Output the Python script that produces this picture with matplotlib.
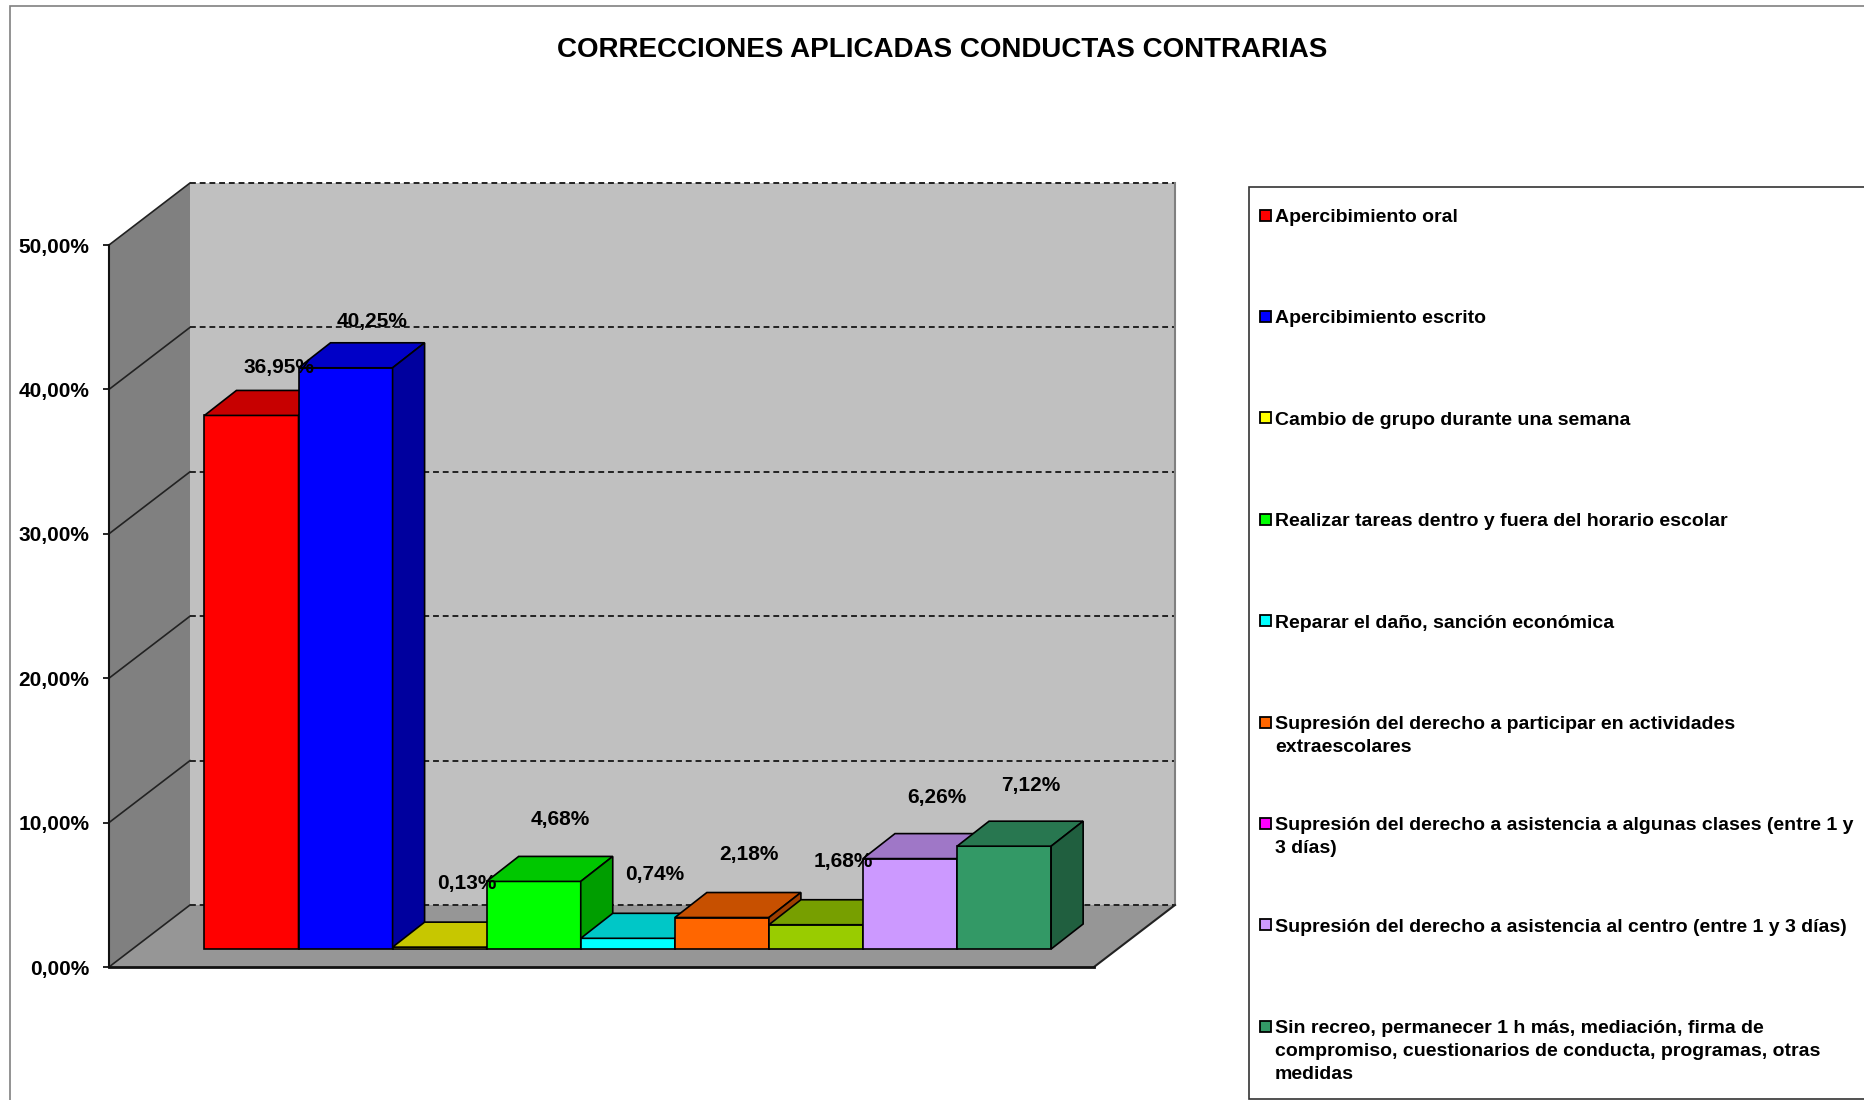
import matplotlib
matplotlib.use("Agg")
import matplotlib.pyplot as plt
from matplotlib.patches import Polygon, Rectangle
from matplotlib.ticker import FuncFormatter
import matplotlib.colors as mcolors
import numpy as np

plt.rcParams['font.family'] = ['Liberation Sans', 'DejaVu Sans']
plt.rcParams['font.weight'] = 'bold'

# ---------------- data ----------------
title = "CORRECCIONES APLICADAS CONDUCTAS CONTRARIAS"
categories = [
    "Apercibimiento oral",
    "Apercibimiento escrito",
    "Cambio de grupo durante una semana",
    "Realizar tareas dentro y fuera del horario escolar",
    "Reparar el daño, sanción económica",
    "Supresión del derecho a participar en actividades\nextraescolares",
    "Supresión del derecho a asistencia a algunas clases (entre 1 y\n3 días)",
    "Supresión del derecho a asistencia al centro (entre 1 y 3 días)",
    "Sin recreo, permanecer 1 h más, mediación, firma de\ncompromiso, cuestionarios de conducta, programas, otras\nmedidas",
]
values = [36.95, 40.25, 0.13, 4.68, 0.74, 2.18, 1.68, 6.26, 7.12]
bar_colors = ["#FF0000", "#0000FF", "#FFFF00", "#00FF00", "#00FFFF",
              "#FF6600", "#99CC00", "#CC99FF", "#339966"]
legend_colors = ["#FF0000", "#0000FF", "#FFFF00", "#00FF00", "#00FFFF",
                 "#FF6600", "#FF00FF", "#CC99FF", "#339966"]
yticks = [0, 10, 20, 30, 40, 50]


def fmt_pct(v, pos=None):
    return f"{v:.2f}%".replace(".", ",")


def shade(c, f):
    r, g, b = mcolors.to_rgb(c)
    return (r * f, g * f, b * f)


# ---------------- figure ----------------
W, H = 1865, 1100
fig = plt.figure(figsize=(W / 100, H / 100), dpi=100)
fig.patch.set_facecolor("white")

# axes = front plane of the 3-D box
ax = fig.add_axes([109 / W, 1 - 967 / H, 985 / W, 722 / H])
ax.set_xlim(-1.27, 9.2)
ax.set_ylim(yticks[0], yticks[-1])
ax.patch.set_visible(False)

bbox = ax.get_window_extent()
x0, x1 = ax.get_xlim()
y0, y1 = ax.get_ylim()
sx = (x1 - x0) / bbox.width    # data units per pixel
sy = (y1 - y0) / bbox.height

# depth geometry (pixels -> data units)
WDX, WDY = 81 * sx, 62 * sy      # full wall depth
BFX, BFY = 23 * sx, 18 * sy      # bar front plane
BDX, BDY = 32 * sx, 25 * sy      # bar depth

# walls
left_wall = Polygon([(x0, y0), (x0 + WDX, y0 + WDY), (x0 + WDX, y1 + WDY), (x0, y1)],
                    closed=True, facecolor="#808080", edgecolor="none",
                    clip_on=False, zorder=0.2)
back_wall = Polygon([(x0 + WDX, y0 + WDY), (x1 + WDX, y0 + WDY),
                     (x1 + WDX, y1 + WDY), (x0 + WDX, y1 + WDY)],
                    closed=True, facecolor="#C0C0C0", edgecolor="none",
                    clip_on=False, zorder=0.2)
floor = Polygon([(x0, y0), (x1, y0), (x1 + WDX, y0 + WDY), (x0 + WDX, y0 + WDY)],
                closed=True, facecolor="#969696", edgecolor="none",
                clip_on=False, zorder=0.3)
for p in (left_wall, back_wall, floor):
    ax.add_patch(p)

# gridlines
for t in yticks:
    ax.plot([x0 + WDX, x1 + WDX], [t + WDY, t + WDY], color="#222222", lw=1.4,
            ls=(0, (3, 2)), clip_on=False, zorder=0.5)
    ax.plot([x0, x0 + WDX], [t, t + WDY], color="#222222", lw=1.2,
            clip_on=False, zorder=0.5)
ax.plot([x1 + WDX, x1 + WDX], [y0 + WDY, y1 + WDY], color="#808080", lw=1.5,
        clip_on=False, zorder=0.5)
ax.plot([x1, x1 + WDX], [y0, y0 + WDY], color="#222222", lw=1.5,
        clip_on=False, zorder=0.6)

# bars (front faces through the library's bar)
xpos = np.arange(len(values))
bars = ax.bar(xpos + BFX, values, width=1.0, bottom=BFY, color=bar_colors,
              edgecolor="black", linewidth=1.2, clip_on=False)
for i, (b, v, c) in enumerate(zip(bars, values, bar_colors)):
    z = 10 + 3 * i
    b.set_zorder(z)
    xl = xpos[i] - 0.5 + BFX
    top = Polygon([(xl, v + BFY), (xl + 1, v + BFY),
                   (xl + 1 + BDX, v + BFY + BDY), (xl + BDX, v + BFY + BDY)],
                  closed=True, facecolor=shade(c, 0.78), edgecolor="black",
                  linewidth=1.2, clip_on=False, zorder=z + 1)
    side = Polygon([(xl + 1, BFY), (xl + 1 + BDX, BFY + BDY),
                    (xl + 1 + BDX, v + BFY + BDY), (xl + 1, v + BFY)],
                   closed=True, facecolor=shade(c, 0.62), edgecolor="black",
                   linewidth=1.2, clip_on=False, zorder=z + 1)
    ax.add_patch(top)
    ax.add_patch(side)
    ax.text(xpos[i] + 50 * sx, v * 0.97 + 82 * sy, fmt_pct(v),
            ha="center", va="center", fontsize=15, fontweight="bold",
            color="black", zorder=100, clip_on=False)

# axes styling
ax.set_xticks([])
ax.set_yticks(yticks)
ax.yaxis.set_major_formatter(FuncFormatter(fmt_pct))
ax.tick_params(axis="y", direction="out", length=4, width=1.2, pad=10,
               labelsize=15, colors="black")
for lbl in ax.get_yticklabels():
    lbl.set_fontweight("bold")
ax.spines["top"].set_visible(False)
ax.spines["right"].set_visible(False)
ax.spines["left"].set_color("#111111")
ax.spines["left"].set_linewidth(1.5)
ax.spines["bottom"].set_color("#111111")
ax.spines["bottom"].set_linewidth(2)
ax.spines["left"].set_zorder(5)
ax.spines["bottom"].set_zorder(5)

# chart title
fig.text(942 / W, 1 - 50 / H, title, ha="center", va="center",
         fontsize=20, fontweight="bold", color="black")

# outer chart border
fig.add_artist(Rectangle((10 / W, -0.02), 1.05, 1 - 6 / H + 0.02,
                         transform=fig.transFigure, facecolor="none",
                         edgecolor="#808080", linewidth=1.2))

# legend box
fig.add_artist(Rectangle((1249 / W, 1 - 1099 / H), (1900 - 1249) / W,
                         (1099 - 187) / H, transform=fig.transFigure,
                         facecolor="white", edgecolor="#333333", linewidth=1.2,
                         zorder=1))
first_y = 215
step = 101.4
line_h = 23
for i, (lab, col) in enumerate(zip(categories, legend_colors)):
    yc = first_y + i * step
    fig.add_artist(Rectangle((1260 / W, 1 - (yc + 5.5) / H), 11 / W, 11 / H,
                             transform=fig.transFigure, facecolor=col,
                             edgecolor="black", linewidth=1.3, zorder=3))
    for k, line in enumerate(lab.split("\n")):
        fig.text(1275 / W, 1 - (yc + 7 + k * line_h) / H, line, ha="left",
                 va="baseline", fontsize=14, fontweight="bold", color="black",
                 zorder=3)

fig.savefig("out.png", dpi=100, facecolor="white")
